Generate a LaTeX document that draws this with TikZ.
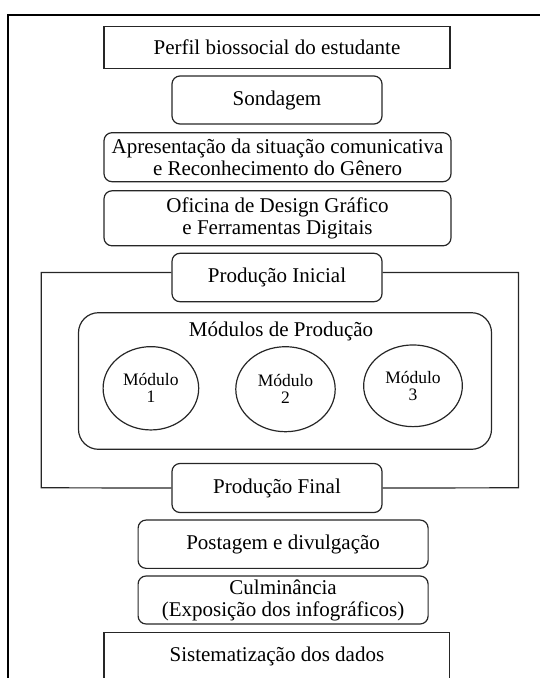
\documentclass[tikz,border=0pt]{standalone}
\usepackage{fontspec}
\setmainfont{Liberation Serif}
\usepackage{tikz}
\usetikzlibrary{shapes.geometric}

\tikzset{
	etapa/.style={draw=black!85, line width=1.2pt, align=center, inner sep=0pt, font=\fontsize{21}{22}\selectfont},
	retapa/.style={etapa, rounded corners=8pt},
	modulo/.style={draw=black!85, line width=1.2pt, ellipse, align=center, inner sep=0pt, font=\fontsize{17.5}{17}\selectfont}
}

\begin{document}
\begin{tikzpicture}[x=1pt, y=-1pt]
	\useasboundingbox (0,0) rectangle (539,678);
	\draw[line width=2pt] (8,690) -- (8,15) -- (550,15);

	\node(perfil) [etapa, minimum width=346, minimum height=42] at (277,47.2) {Perfil biossocial do estudante};
	\node(sondagem) [retapa, minimum width=210, minimum height=48] at (277,100) {Sondagem};
	\node(apresent) [retapa, minimum width=347, minimum height=49] at (277.5,157.2) {Apresentação da situação comunicativa\\ e Reconhecimento do Gênero};
	\node(oficina) [retapa, minimum width=347, minimum height=55] at (277.5,218.3) {Oficina de Design Gráfico\\ e Ferramentas Digitais};
	\node(inicial) [retapa, minimum width=210, minimum height=48.4] at (277,277.5) {Produção Inicial};

	\node(modulos) [retapa, rounded corners=20pt, minimum width=413, minimum height=136.6] at (285,381) {};
	\node(titulo) [font=\fontsize{21}{22}\selectfont] at (281,331.7) {Módulos de Produção};
	\node(m1) [modulo, minimum width=95.6, minimum height=83.3] at (150.9,388.3) {Módulo\\ 1};
	\node(m2) [modulo, minimum width=99.4, minimum height=85] at (285.5,389.2) {Módulo\\ 2};
	\node(m3) [modulo, minimum width=98.7, minimum height=81.7] at (413,385.8) {Módulo\\ 3};

	\node(final) [retapa, minimum width=210, minimum height=49] at (277,488) {Produção Final};
	\node(postagem) [retapa, minimum width=290, minimum height=48.3] at (283.1,544.2) {Postagem e divulgação};
	\node(culmin) [retapa, minimum width=290, minimum height=48] at (283.1,600) {Culminância\\ (Exposição dos infográficos)};
	\node(sistem) [etapa, minimum width=345.7, minimum height=47.6] at (276.9,656.5) {Sistematização dos dados};

	\draw[draw=black!85, line width=1.2pt] ([yshift=5pt]inicial.east) -| (518.4,487.8) -- (final.east);
	\draw[draw=black!85, line width=1.2pt] ([yshift=5pt]inicial.west) -| (41.3,487.8) -- (final.west);

\end{tikzpicture}
\end{document}
